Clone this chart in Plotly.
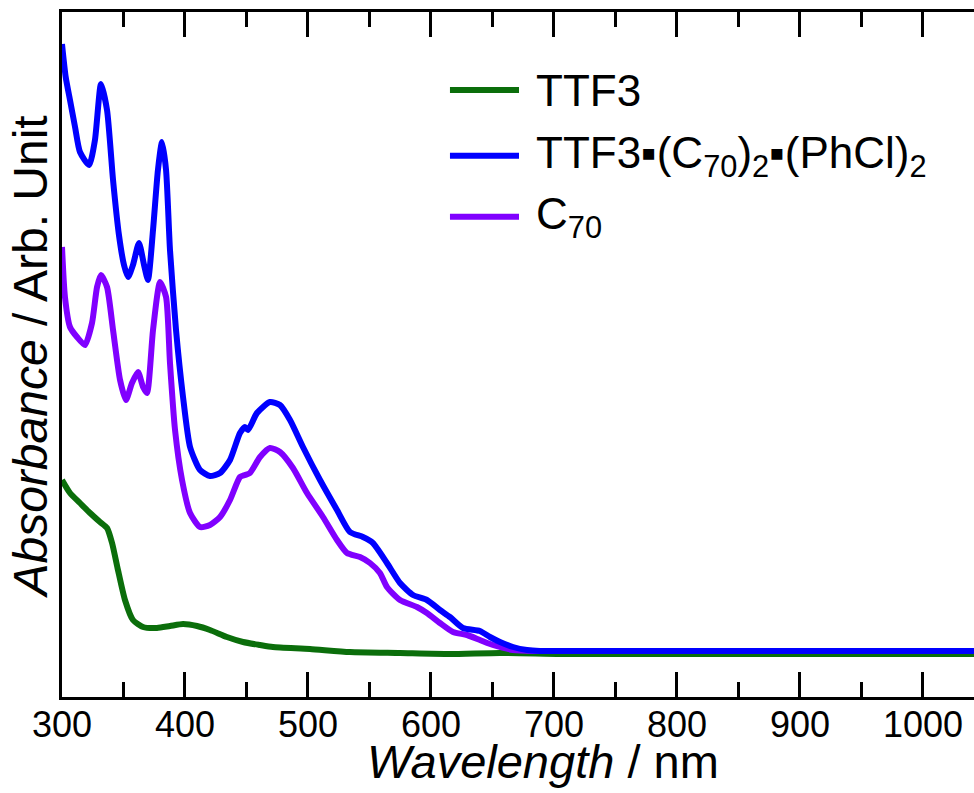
import plotly.graph_objects as go

# ---- data ----
series_names = ["TTF3", "TTF3▪(C<sub>70</sub>)<sub>2</sub>▪(PhCl)<sub>2</sub>", "C<sub>70</sub>"]
series_colors = ["#0b6e0b", "#0000ff", "#8000ff"]

wl_ttf3 = [300, 306.5, 314.6, 322.8, 330.9, 336.6, 340.7, 345.5, 351.2, 357.7, 365.9, 377.2,
           387.8, 398.4, 409.8, 420.3, 434.1, 447.2, 461.0, 471.5, 501.6, 534.1, 574.8,
           615.4, 656.0, 705.0, 750, 800, 850, 900, 950, 1000, 1050]
abs_ttf3 = [1.72, 1.59, 1.49, 1.39, 1.30, 1.24, 1.09, 0.82, 0.52, 0.32, 0.25, 0.24,
            0.26, 0.28, 0.26, 0.22, 0.15, 0.10, 0.07, 0.05, 0.03, 0.00, -0.01,
            -0.02, -0.01, -0.02, -0.02, -0.02, -0.02, -0.02, -0.02, -0.02, -0.02]

wl_complex = [300, 303.0, 306.5, 310.6, 314.6, 322.0, 326.8, 331.7, 336.6, 341.5, 346.3, 350.4,
              353.7, 357.7, 362.6, 366.7, 369.9, 374.0, 378.0, 381.3, 384.6, 387.8, 392.7,
              398.4, 404.1, 412.2, 420.3, 428.5, 436.6, 444.7, 448.8, 451.2, 458.5, 469.1,
              477.2, 485.4, 495.9, 509.8, 523.6, 534.1, 544.7, 552.8, 564.2, 574.8, 585.4,
              596.7, 607.3, 615.4, 626.0, 639.8, 648.0, 656.1, 666.7, 678.0, 688.6, 720,
              800, 900, 1000, 1050]
abs_complex = [6.08, 5.75, 5.52, 5.25, 5.00, 4.87, 5.12, 5.68, 5.42, 4.72, 4.17, 3.87,
               3.75, 3.87, 4.09, 3.87, 3.72, 4.22, 4.82, 5.10, 4.82, 4.02, 3.22,
               2.55, 2.05, 1.82, 1.76, 1.79, 1.92, 2.19, 2.25, 2.22, 2.39, 2.50,
               2.47, 2.32, 2.05, 1.72, 1.42, 1.20, 1.15, 1.09, 0.89, 0.69, 0.57,
               0.52, 0.42, 0.35, 0.24, 0.21, 0.15, 0.10, 0.05, 0.02, 0.01, 0.01,
               0.01, 0.01, 0.01, 0.01]

wl_c70 = [300, 302.4, 306.5, 312.2, 318.7, 324.4, 328.5, 331.7, 336.6, 341.5, 347.2, 352.0,
          356.9, 361.8, 365.9, 369.1, 374.0, 379.7, 384.6, 387.8, 391.9, 397.6, 404.1,
          412.2, 420.3, 428.5, 436.6, 444.7, 448.8, 452.8, 461.0, 469.1, 477.2, 487.8,
          499.2, 512.2, 523.6, 531.7, 542.3, 550.4, 558.5, 564.2, 574.8, 588.6, 596.7,
          607.3, 617.9, 629.3, 639.8, 650.4, 666.7, 683.0, 720, 800, 900, 1000, 1050]
abs_c70 = [4.05, 3.55, 3.25, 3.15, 3.07, 3.29, 3.65, 3.77, 3.65, 3.22, 2.72, 2.52,
           2.69, 2.80, 2.65, 2.59, 3.22, 3.70, 3.55, 2.89, 2.22, 1.72, 1.39,
           1.25, 1.27, 1.35, 1.52, 1.75, 1.77, 1.79, 1.95, 2.04, 2.00, 1.84,
           1.59, 1.35, 1.12, 0.99, 0.95, 0.89, 0.79, 0.65, 0.52, 0.45, 0.39,
           0.29, 0.20, 0.17, 0.12, 0.07, 0.02, 0.01, 0.01, 0.01, 0.01, 0.01, 0.01]

x_tickvals = [300, 400, 500, 600, 700, 800, 900, 1000]
x_range = [300, 1041.5]
y_range = [-0.45, 6.40]

FONT = "Arial, Liberation Sans, sans-serif"

fig = go.Figure()
# draw order: TTF3 (bottom), C70, complex (top)
fig.add_trace(go.Scatter(x=wl_ttf3, y=abs_ttf3, mode="lines",
                         line=dict(color=series_colors[0], width=6, shape="spline", smoothing=0.6),
                         showlegend=False))
fig.add_trace(go.Scatter(x=wl_c70, y=abs_c70, mode="lines",
                         line=dict(color=series_colors[2], width=6, shape="spline", smoothing=0.6),
                         showlegend=False))
fig.add_trace(go.Scatter(x=wl_complex, y=abs_complex, mode="lines",
                         line=dict(color=series_colors[1], width=6, shape="spline", smoothing=0.6),
                         showlegend=False))

# manual legend
leg_y = [0.886, 0.790, 0.701]
for name, col, yy in zip(series_names, series_colors, leg_y):
    fig.add_shape(type="line", xref="paper", yref="paper", x0=0.4254, x1=0.5011, y0=yy, y1=yy,
                  line=dict(color=col, width=6))
    fig.add_annotation(xref="paper", yref="paper", x=0.5175, y=yy, text=name, showarrow=False,
                       xanchor="left", yanchor="middle", font=dict(size=44, color="black", family=FONT))

# axis titles
fig.add_annotation(xref="paper", yref="paper", x=0.5274, y=-0.094,
                   text="<i>Wavelength</i> / nm", showarrow=False, xanchor="center", yanchor="middle",
                   font=dict(size=47, color="black", family=FONT))
fig.add_annotation(xref="paper", yref="paper", x=-0.034, y=0.497,
                   text="<i>Absorbance</i> / Arb. Unit", showarrow=False, textangle=-90,
                   xanchor="center", yanchor="middle",
                   font=dict(size=48, color="black", family=FONT))

fig.update_layout(
    width=974, height=793,
    margin=dict(l=62, r=0, t=12, b=96),
    paper_bgcolor="white", plot_bgcolor="white",
    font=dict(family=FONT, color="black"),
    showlegend=False,
)
fig.update_xaxes(range=x_range, tickvals=x_tickvals, ticks="inside", ticklen=25, tickwidth=3,
                 tickcolor="black", showline=True, linecolor="black", linewidth=3, mirror="ticks",
                 showgrid=False, zeroline=False, tickfont=dict(size=36, family=FONT, color="black"),
                 ticklabelstandoff=-6,
                 minor=dict(dtick=50, tick0=300, ticks="inside", ticklen=15, tickwidth=3, tickcolor="black",
                            showgrid=False))
fig.update_yaxes(range=y_range, showticklabels=False, ticks="", showline=True, linecolor="black",
                 linewidth=3, mirror=False, showgrid=False, zeroline=False)

fig.write_html("out.html", config={"displayModeBar": False},
               post_script="document.body.style.margin='0';document.body.style.overflow='hidden';")
